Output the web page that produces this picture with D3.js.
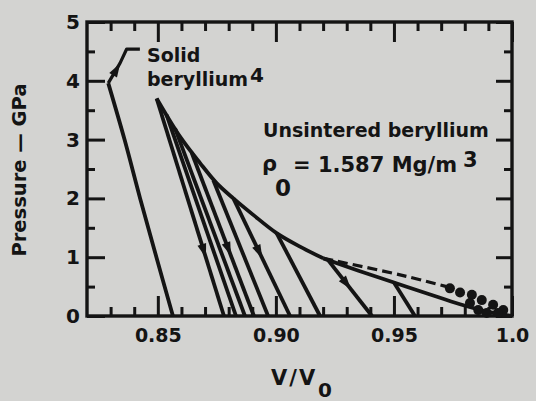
<!DOCTYPE html>
<html><head><meta charset="utf-8">
<script src="https://cdn.jsdelivr.net/npm/d3@7"></script>
<style>
html,body{margin:0;padding:0;background:#d3d3d1;}
svg{display:block;}
text{font-family:"DejaVu Sans",sans-serif;font-weight:bold;fill:#141414;}
</style></head><body>
<svg id="chart" width="536" height="401"></svg>
<script>
// ---------- data ----------
const xMajorTicks = [0.85, 0.90, 0.95, 1.0];
const xTickLabels = ["0.85", "0.90", "0.95", "1.0"];
const xMinorTicks = [0.83,0.84,0.86,0.87,0.88,0.89,0.91,0.92,0.93,0.94,0.96,0.97,0.98,0.99];
const yMajorTicks = [0, 1, 2, 3, 4, 5];
const yTickLabels = ["0", "1", "2", "3", "4", "5"];
const yMinorTicks = [0.5, 1.5, 2.5, 3.5, 4.5];

// solid beryllium Hugoniot (V/V0, GPa)
const solidV = [0.8564, 0.8494, 0.8425, 0.8359, 0.8290];
const solidP = [0.00, 1.00, 2.00, 3.00, 3.96];
// leader from solid curve up to label
const leaderV = [0.8290, 0.8340, 0.8368, 0.8424];
const leaderP = [3.96, 4.30, 4.54, 4.54];

// unsintered beryllium upper envelope
const envV = [0.8495, 0.8594, 0.8679, 0.8749, 0.8820, 0.8904, 0.9003, 0.9102, 0.9201];
const envP = [3.70, 3.05, 2.60, 2.26, 2.00, 1.72, 1.41, 1.18, 0.98];
// lower solid continuation
const lowV = [0.9201, 0.935, 0.950, 0.965, 0.978, 0.990, 1.000];
const lowP = [0.98, 0.77, 0.57, 0.37, 0.20, 0.07, 0.00];
// dashed continuation
const dashV = [0.9201, 0.9526, 0.9723];
const dashP = [0.98, 0.70, 0.50];
// data points near V/V0 = 1
const dotV = [0.9737, 0.9780, 0.9830, 0.9872, 0.9920, 0.9963, 0.9822, 0.9857, 0.9893, 0.9940];
const dotP = [0.47, 0.40, 0.36, 0.27, 0.19, 0.10, 0.22, 0.10, 0.05, 0.05];

// release paths: start (V, P) on envelope -> end V at zero pressure
const relStartV = [0.8495, 0.8537, 0.8573, 0.8643, 0.8735, 0.8820, 0.9003, 0.9221, 0.9500];
const relStartP = [3.70, 3.42, 3.19, 2.78, 2.31, 2.00, 1.41, 0.95, 0.57];
const relEndV   = [0.8780, 0.8831, 0.8869, 0.8907, 0.8967, 0.9060, 0.9187, 0.9407, 0.9589];
// arrows: which release path, and pressure where arrow sits
const arrowPath = [0, 3, 5, 7];
const arrowAtP  = [1.12, 1.15, 1.10, 0.56];

// ---------- drawing ----------
const ink = "#141414";
const svg = d3.select("#chart");
const x = d3.scaleLinear().domain([0.82, 1.0]).range([87, 512]);
const y = d3.scaleLinear().domain([0, 5]).range([316, 22]);

function styleAxis(g, fs) {
  g.select(".domain").remove();
  g.selectAll(".tick line").attr("stroke", ink).attr("stroke-width", 3);
  g.attr("font-family", null).attr("font-size", fs || 19);
  g.selectAll(".tick text").attr("fill", ink);
}
// bottom
svg.append("g").attr("transform", `translate(0,${y(0)})`)
  .call(d3.axisBottom(x).tickValues(xMinorTicks).tickSize(-9).tickFormat(""))
  .call(styleAxis);
svg.append("g").attr("transform", `translate(0,${y(0)})`)
  .call(d3.axisBottom(x).tickValues(xMajorTicks).tickSize(-20).tickPadding(13)
    .tickFormat((d, i) => xTickLabels[i]))
  .call(g => styleAxis(g, 19));
// top
svg.append("g").attr("transform", `translate(0,${y(5)})`)
  .call(d3.axisTop(x).tickValues(xMinorTicks).tickSize(-9).tickFormat(""))
  .call(styleAxis);
svg.append("g").attr("transform", `translate(0,${y(5)})`)
  .call(d3.axisTop(x).tickValues(xMajorTicks).tickSize(-20).tickFormat(""))
  .call(styleAxis);
// left
svg.append("g").attr("transform", `translate(${x(0.82)},0)`)
  .call(d3.axisLeft(y).tickValues(yMinorTicks).tickSize(-8).tickFormat(""))
  .call(styleAxis);
svg.append("g").attr("transform", `translate(${x(0.82)},0)`)
  .call(d3.axisLeft(y).tickValues(yMajorTicks).tickSize(-18).tickPadding(7)
    .tickFormat((d, i) => yTickLabels[i]))
  .call(g => styleAxis(g, 20));
// right
svg.append("g").attr("transform", `translate(${x(1.0)},0)`)
  .call(d3.axisRight(y).tickValues(yMinorTicks).tickSize(-8).tickFormat(""))
  .call(styleAxis);
svg.append("g").attr("transform", `translate(${x(1.0)},0)`)
  .call(d3.axisRight(y).tickValues(yMajorTicks).tickSize(-16).tickFormat(""))
  .call(styleAxis);

// frame
svg.append("rect")
  .attr("x", x(0.82)).attr("y", y(5))
  .attr("width", x(1.0) - x(0.82)).attr("height", y(0) - y(5))
  .attr("fill", "none").attr("stroke", ink).attr("stroke-width", 3.4);

const zip = (a, b) => a.map((v, i) => [v, b[i]]);
const lineLin = d3.line().x(d => x(d[0])).y(d => y(d[1]));
const lineSmooth = d3.line().x(d => x(d[0])).y(d => y(d[1])).curve(d3.curveCatmullRom.alpha(0.5));

function path(data, gen, extra) {
  const p = svg.append("path").attr("d", gen(data))
    .attr("fill", "none").attr("stroke", ink).attr("stroke-width", 3.8)
    .attr("stroke-linejoin", "round");
  if (extra) extra(p);
  return p;
}

path(zip(solidV, solidP), lineSmooth);
path(zip(leaderV, leaderP), lineLin, p => p.attr("stroke-width", 3.2));
path(zip(envV, envP), lineSmooth);
path(zip(lowV, lowP), lineSmooth);
path(zip(dashV, dashP), lineSmooth, p => p.attr("stroke-dasharray", "10,5").attr("stroke-width", 3.2));

relStartV.forEach((v0, i) => {
  path([[v0, relStartP[i]], [relEndV[i], 0]], lineLin);
});

// arrow heads on release paths
function arrowAt(px, py, ang) {
  svg.append("path")
    .attr("d", "M8,0 L-6,-4.5 L-6,4.5 Z")
    .attr("transform", `translate(${px},${py}) rotate(${ang})`)
    .attr("fill", ink);
}
arrowPath.forEach((k, j) => {
  const v0 = relStartV[k], p0 = relStartP[k], v1 = relEndV[k];
  const t = (p0 - arrowAtP[j]) / p0;
  const vv = v0 + (v1 - v0) * t;
  const ang = Math.atan2(y(0) - y(p0), x(v1) - x(v0)) * 180 / Math.PI;
  arrowAt(x(vv), y(arrowAtP[j]), ang);
});
// arrow on solid leader (pointing up)
{
  const a0 = [x(leaderV[0]), y(leaderP[0])], a1 = [x(leaderV[1]), y(leaderP[1])];
  const ang = Math.atan2(a1[1] - a0[1], a1[0] - a0[0]) * 180 / Math.PI;
  arrowAt((a0[0] + a1[0]) / 2 + 2, (a0[1] + a1[1]) / 2 - 3, ang);
}

// dots
svg.selectAll("circle.pt").data(zip(dotV, dotP)).enter().append("circle")
  .attr("class", "pt").attr("cx", d => x(d[0])).attr("cy", d => y(d[1]))
  .attr("r", 5).attr("fill", ink);

// ---------- text ----------
function txt(s, tx, ty, fs, anchor) {
  return svg.append("text").attr("x", tx).attr("y", ty).attr("font-size", fs)
    .attr("text-anchor", anchor || "start").text(s);
}
txt("Solid", 147, 62, 19);
txt("beryllium", 147, 86, 19);
txt("4", 250, 82, 20);

txt("Unsintered beryllium", 263, 137, 19);
txt("ρ", 262, 171, 21);
txt("0", 275, 196, 23);
txt("= 1.587 Mg/m", 293, 172, 21);
txt("3", 463, 167, 21);

// axis titles
svg.append("text").attr("transform", "translate(26,170) rotate(-90)")
  .attr("text-anchor", "middle").attr("font-size", 19.5).text("Pressure — GPa");
txt("V/V", 271, 385, 21).attr("letter-spacing", 2);
txt("0", 318, 397, 20);
</script>
</body></html>
